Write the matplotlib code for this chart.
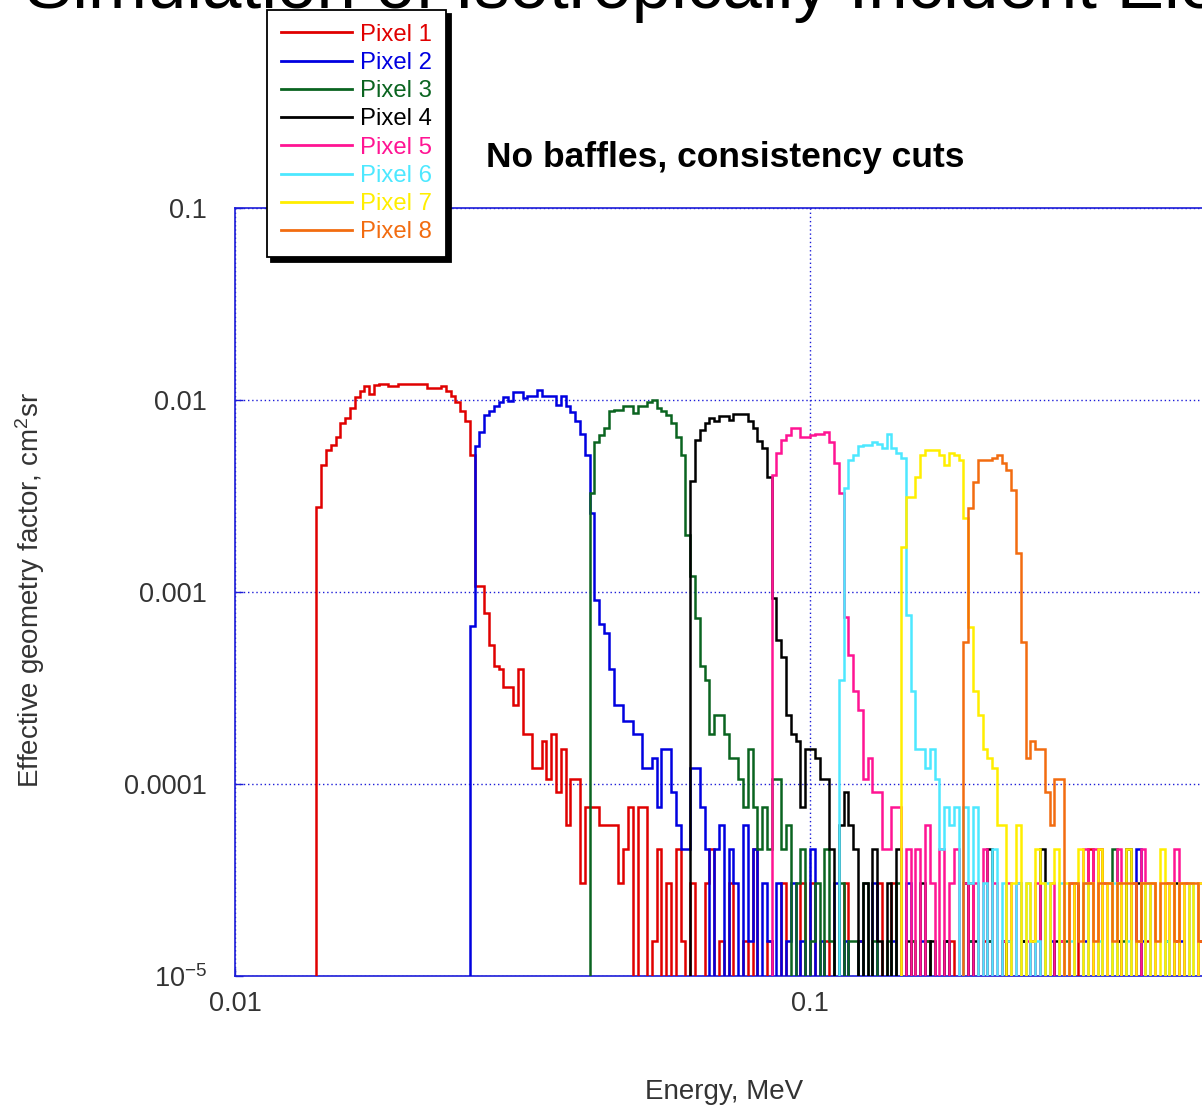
import matplotlib
matplotlib.use("Agg")
import matplotlib.pyplot as plt
import numpy as np
from matplotlib.lines import Line2D
from matplotlib.patches import Shadow

plt.rcParams['font.family'] = ['Liberation Sans', 'DejaVu Sans']
plt.rcParams['mathtext.default'] = 'regular'

# histogram binning: 120 log bins per decade starting at 10 keV
E_FIRST_EDGE = 0.01
BINS_PER_DECADE = 120
COUNT_TO_GF = 1.52e-5   # cm^2 sr per simulated count

LABELS = ['Pixel 1', 'Pixel 2', 'Pixel 3', 'Pixel 4', 'Pixel 5', 'Pixel 6', 'Pixel 7', 'Pixel 8']
COLORS = ['#e00000', '#0000e0', '#0a6420', '#000000', '#ff1493', '#4de8ff', '#ffee00', '#f26c10']
START_BIN = [17, 49, 74, 95, 112, 126, 139, 152]

pixel1 = [182, 301, 361, 383, 420, 500, 530, 600, 680, 730,
          780, 710, 790, 800, 800, 780, 780, 795, 800, 800,
          800, 800, 795, 760, 760, 760, 780, 730, 690, 640,
          580, 510, 340, 71, 71, 51, 35, 27, 26, 21,
          21, 17, 26, 12, 12, 8, 8, 11, 7, 12,
          6, 10, 4, 7, 7, 2, 5, 5, 5, 4,
          4, 4, 4, 2, 3, 5, 0, 5, 5, 0,
          1, 3, 0, 2, 0, 3, 1, 0, 2, 0,
          0, 2, 3, 0, 1, 0, 2, 0, 0, 1,
          0, 3, 0, 0, 1, 0, 0, 2, 0, 0,
          0, 2, 0, 2, 0, 0, 1, 0, 0, 0,
          2, 0, 0, 1, 0, 0, 0, 2, 0, 0,
          2, 0, 0, 0, 1, 0, 0, 1, 0, 0,
          0, 0, 1, 0, 0, 0, 2, 0, 0, 1,
          0, 0, 0, 0, 1, 0, 0, 0, 0, 1,
          0, 0, 0, 0, 0, 1, 0, 0, 2, 0,
          0, 3, 0, 3, 0, 0, 0, 1, 0, 0,
          0, 0, 0, 1, 0, 0, 0, 0, 0, 1,
          0, 0, 0, 0, 1, 0, 0, 0, 0]
pixel2 = [44, 380, 450, 550, 580, 610, 640, 680, 650, 720,
          720, 670, 690, 690, 740, 690, 690, 690, 620, 690,
          610, 570, 510, 440, 340, 170, 60, 45, 40, 26,
          17, 17, 14, 14, 12, 12, 8, 8, 9, 5,
          10, 10, 6, 4, 3, 3, 8, 8, 5, 3,
          0, 3, 4, 0, 3, 2, 0, 4, 1, 3,
          0, 2, 1, 0, 2, 0, 1, 2, 0, 1,
          0, 3, 0, 1, 0, 0, 2, 0, 1, 0,
          0, 1, 0, 0, 2, 0, 0, 0, 1, 0,
          0, 2, 0, 0, 1, 0, 0, 0, 0, 1,
          0, 0, 0, 0, 1, 0, 0, 0, 1, 0,
          0, 0, 0, 0, 0, 1, 0, 0, 0, 0,
          0, 1, 0, 0, 0, 0, 0, 0, 1, 0,
          0, 0, 0, 0, 0, 0, 0, 0, 0, 3,
          1, 0, 0, 0, 0, 0, 0, 0, 1, 0,
          0, 0, 0, 0, 0, 0, 0]
pixel3 = [216, 397, 432, 470, 575, 584, 584, 610, 610, 560,
          610, 610, 640, 658, 600, 575, 550, 500, 420, 340,
          130, 80, 48, 27, 23, 12, 15, 15, 12, 9,
          9, 7, 5, 10, 5, 3, 5, 3, 7, 7,
          3, 4, 0, 2, 3, 0, 1, 2, 0, 3,
          1, 0, 2, 0, 1, 1, 0, 2, 0, 1,
          0, 0, 1, 0, 2, 0, 0, 1, 0, 0,
          1, 0, 0, 0, 1, 0, 0, 0, 0, 1,
          0, 0, 0, 1, 0, 0, 0, 0, 0, 0,
          1, 0, 0, 0, 0, 0, 0, 0, 0, 1,
          0, 0, 0, 0, 0, 0, 0, 0, 0, 3,
          0, 1, 0, 0, 0, 0, 0, 0, 0, 0,
          1, 0, 0, 0, 0, 0, 0, 0, 0, 0,
          0, 0]
pixel4 = [250, 407, 459, 500, 530, 510, 540, 540, 520, 555,
          555, 555, 510, 470, 400, 370, 260, 61, 37, 30,
          15, 12, 11, 5, 10, 10, 9, 7, 7, 3,
          0, 4, 6, 4, 3, 0, 2, 0, 3, 1,
          0, 2, 0, 3, 0, 1, 0, 0, 2, 0,
          1, 0, 0, 1, 0, 0, 0, 2, 0, 1,
          0, 0, 3, 0, 0, 1, 0, 0, 0, 1,
          0, 0, 0, 3, 0, 0, 1, 0, 0, 0,
          0, 0, 0, 0, 0, 0, 0, 0, 0, 1,
          0, 3, 0, 2, 0, 0, 0, 0, 0, 0,
          0, 2, 0, 0, 0, 0, 0, 0, 0, 0,
          0]
pixel5 = [267, 350, 407, 432, 470, 470, 420, 420, 432, 440,
          440, 450, 397, 310, 216, 49, 31, 20, 16, 7,
          9, 6, 6, 3, 3, 5, 5, 0, 3, 0,
          3, 0, 4, 2, 0, 3, 0, 2, 3, 0,
          2, 0, 2, 0, 3, 0, 2, 0, 1, 2,
          0, 2, 0, 1, 0, 2, 0, 0, 2, 0,
          1, 0, 2, 0, 0, 3, 0, 3, 0, 2,
          0, 0, 3, 0, 0, 2, 0, 3, 0, 2,
          0, 0, 2, 0, 3, 0, 2, 0, 0, 2,
          0, 2, 0, 2]
pixel6 = [23, 230, 320, 340, 380, 383, 383, 397, 390, 370,
          440, 370, 350, 330, 50, 20, 10, 10, 8, 10,
          7, 3, 5, 4, 5, 0, 5, 2, 5, 0,
          2, 0, 3, 0, 2, 1, 0, 2, 0, 2,
          0, 1, 0, 2, 0, 0, 2, 0, 1, 0,
          0, 2, 0, 0, 1, 0, 0, 2, 0, 0,
          1, 0, 0, 0, 2, 0, 0, 0, 1, 0,
          0, 0, 0, 2, 0, 0, 0, 0, 0, 0]
pixel7 = [113, 205, 205, 262, 340, 361, 361, 361, 340, 301,
          350, 340, 320, 160, 43, 20, 15, 10, 9, 8,
          4, 4, 0, 2, 4, 0, 2, 1, 3, 2,
          0, 2, 3, 0, 2, 0, 2, 3, 0, 2,
          0, 3, 0, 2, 0, 2, 0, 3, 0, 1,
          2, 0, 2, 0, 3, 0, 2, 0, 2, 0,
          2, 0, 2, 0, 1, 2, 0]
pixel8 = [36, 180, 246, 320, 320, 320, 330, 340, 310, 284,
          223, 105, 36, 9, 11, 10, 10, 6, 4, 7,
          7, 0, 2, 2, 1, 2, 2, 1, 2, 2,
          2, 1, 2, 2, 2, 2, 1, 2, 2, 2,
          1, 2, 2, 2, 1, 2, 2, 2, 2, 1,
          2, 2, 2, 2]
PIXEL_COUNTS = [pixel1, pixel2, pixel3, pixel4, pixel5, pixel6, pixel7, pixel8]

Y_TICKS = [1e-5, 1e-4, 1e-3, 1e-2, 1e-1]
Y_TICK_LABELS = ['$10^{-5}$', '0.0001', '0.001', '0.01', '0.1']
X_TICKS = [0.01, 0.1]
X_TICK_LABELS = ['0.01', '0.1']

AXIS_BLUE = '#1c1cd8'
TEXT_GRAY = '#333333'
W, H = 1202, 1109

fig = plt.figure(figsize=(W / 100, H / 100), dpi=100)
# the plot box runs off the right side of the picture (it ends at 1 MeV)
ax = fig.add_axes([235 / W, (H - 976) / H, (1385 - 235) / W, (976 - 208) / H])
ax.set_xscale('log')
ax.set_yscale('log')

grid_edges = E_FIRST_EDGE * 10 ** (np.arange(0, 260) / BINS_PER_DECADE)
floor = 1e-9
for counts, start, color in zip(PIXEL_COUNTS, START_BIN, COLORS):
    counts = np.array(counts, dtype=float)
    vals = np.where(counts > 0, counts * COUNT_TO_GF, floor)
    edges = grid_edges[start:start + len(vals) + 1]
    ax.stairs(vals, edges, baseline=floor, color=color, lw=1.8, zorder=3)

ax.set_xlim(0.01, 1)
ax.set_ylim(1e-5, 0.1)
ax.set_xticks(X_TICKS, X_TICK_LABELS)
ax.set_yticks(Y_TICKS, Y_TICK_LABELS)
ax.minorticks_off()
ax.grid(True, which='major', color=AXIS_BLUE, linestyle=(0, (1, 2)), linewidth=1.0, zorder=1)
for side in ['left', 'bottom', 'right', 'top']:
    ax.spines[side].set_color(AXIS_BLUE)
    ax.spines[side].set_linewidth(1.2)
ax.tick_params(axis='both', direction='in', length=6, width=1, color=AXIS_BLUE,
               labelsize=19.5, labelcolor=TEXT_GRAY)
ax.tick_params(axis='y', pad=20)
ax.tick_params(axis='x', pad=11)

fig.text(30 / W, 1 - 590 / H, 'Effective geometry factor, cm$^2$sr', rotation=90,
         ha='center', va='center', fontsize=20, color=TEXT_GRAY)
fig.text(724 / W, 1 - 1092 / H, 'Energy, MeV', ha='center', va='center',
         fontsize=20, color=TEXT_GRAY)
fig.text(725 / W, 1 - 157 / H, 'No baffles, consistency cuts', ha='center', va='center',
         fontsize=25.5, fontweight='bold', color='black')
fig.text(25 / W, 1 - 8 / H, 'Simulation of Isotropically Incident Electrons',
         ha='left', va='baseline', fontsize=51, color='black')

handles = [Line2D([], [], color=c, lw=2) for c in COLORS]
leg = fig.legend(handles, LABELS, loc='upper left', bbox_to_anchor=(267 / W, 1 - 10 / H),
                 bbox_transform=fig.transFigure, borderaxespad=0, fancybox=False,
                 frameon=True, edgecolor='black', framealpha=1, fontsize=17.2,
                 labelcolor='linecolor', handlelength=2.97, handletextpad=0.36,
                 labelspacing=0.26, borderpad=0.58)
leg.get_frame().set_linewidth(1.3)
leg.set_zorder(10)
fig.draw_without_rendering()
shadow = Shadow(leg.legendPatch, 3.2, -3.2, color='black', alpha=1)
shadow.set_zorder(9.9)
fig.add_artist(shadow)

fig.savefig('out.png', dpi=100)
